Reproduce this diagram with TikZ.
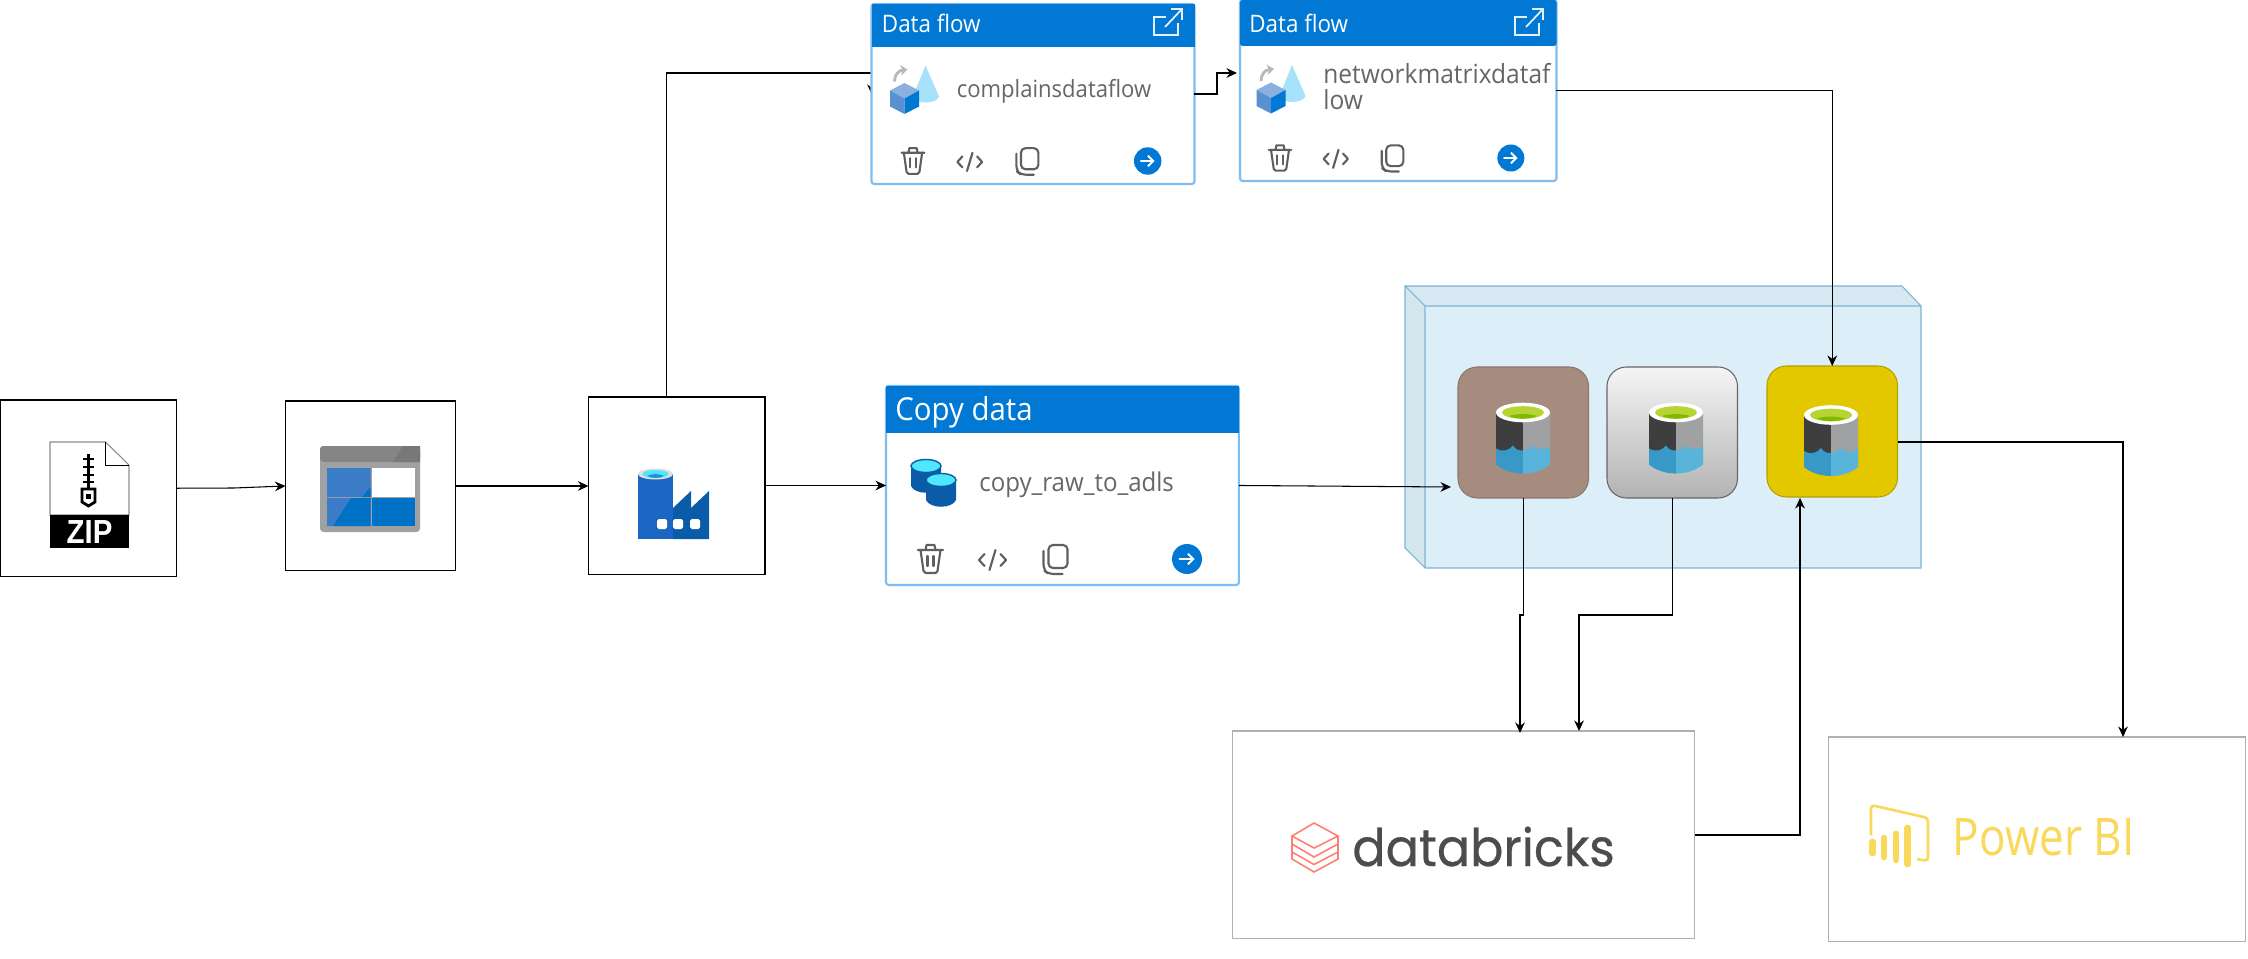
\documentclass[tikz,border=0pt]{standalone}
\usepackage{fontspec}
\setmainfont{Open Sans}[FakeStretch=0.93]
\newfontfamily\logofont{Poppins}[FakeBold=0.5,FakeStretch=0.95]
\newfontfamily\zipfont{Liberation Sans}[FakeStretch=0.88]
\newfontfamily\pbifont{Open Sans}[FakeStretch=0.85]
\usetikzlibrary{arrows.meta}

\definecolor{cardblue}{HTML}{0078D4}
\definecolor{cardedge}{HTML}{7FBDF0}
\definecolor{cardtext}{HTML}{666666}
\definecolor{toolgray}{HTML}{5F5F5F}
\definecolor{boxgray}{HTML}{B0B0B0}
\definecolor{pbiyellow}{HTML}{F9D85A}
\definecolor{brickred}{HTML}{FF7F70}
\definecolor{lakefront}{HTML}{DCEEF8}
\definecolor{lakeside}{HTML}{D4E6EE}
\definecolor{laketop}{HTML}{D7E8F2}
\definecolor{lakeedge}{HTML}{7DB5D2}
\definecolor{rawbrown}{HTML}{A68C7E}
\definecolor{goldfill}{HTML}{E3C800}
\definecolor{pailblack}{HTML}{3E3E3E}
\definecolor{pailgray}{HTML}{A0A1A2}
\definecolor{pailgreen}{HTML}{B8D432}
\definecolor{paildeep}{HTML}{7FBA00}
\definecolor{pailwater}{HTML}{3999C6}
\definecolor{pailsky}{HTML}{59B4D9}
\definecolor{adfleft}{HTML}{1A66C2}
\definecolor{adfright}{HTML}{0B5CA8}
\definecolor{adftop}{HTML}{50E6FF}
\definecolor{storecell}{HTML}{3B7CC9}
\definecolor{storedeep}{HTML}{0072C6}

\tikzset{
  x=0.02cm, y=-0.02cm,
  blackbox/.style={draw=black, line width=.6pt, fill=white, anchor=north west, inner sep=0pt, outer sep=0pt},
  logobox/.style={draw=boxgray, line width=.6pt, fill=white, anchor=north west, inner sep=0pt, outer sep=0pt},
  cardbox/.style={draw=cardedge, line width=1.2pt, fill=white, rounded corners=1.5pt, anchor=north west, inner sep=0pt, outer sep=0pt},
  lakebox/.style={line width=.6pt, rounded corners=11pt, anchor=north west, inner sep=0pt, outer sep=0pt, minimum width=2.61cm, minimum height=2.62cm},
  headtext/.style={anchor=base west, inner sep=0pt, text=white, font=\fontsize{13.7}{16}\selectfont},
  nametext/.style={anchor=base west, inner sep=0pt, text=cardtext, font=\fontsize{13.5}{16}\selectfont},
  conn/.style={draw=black, line width=.6pt, -{Stealth[length=6pt,width=5.5pt]}},
  bucketicon/.pic={
    \fill[pailblack] (-27,0) -- (-27,52) -- (0,61) -- (0,0) -- cycle;
    \fill[pailgray] (0,0) -- (0,61) -- (27,52) -- (27,0) -- cycle;
    \fill[pailwater] (-27,36) .. controls (-20,40) and (-14,38) .. (-10,33) .. controls (-7,38) and (-3,38) .. (0,38) -- (0,61) .. controls (-10,61) and (-20,58) .. (-27,52) -- cycle;
    \fill[pailsky] (0,38) .. controls (5,38) and (7,36) .. (9,33) .. controls (14,38) and (22,38) .. (27,34) -- (27,52) .. controls (20,58) and (10,61) .. (0,61) -- cycle;
    \fill[white] (0,0) ellipse[x radius=27, y radius=9.8];
    \fill[pailgreen] (0,0) ellipse[x radius=21, y radius=6.3];
    \fill[paildeep] (-14,3.5) .. controls (-7,1) and (7,1) .. (14,3.5) .. controls (7,7) and (-7,7) .. cycle;
  },
  flowicon/.pic={
    \fill[cyan!35] (21,-33) -- (8.5,-2) .. controls (10,6) and (32,6) .. (34.5,-2) -- cycle;
    \draw[black!28, line width=1.6pt, -{Stealth[length=4pt,width=6pt]}] (-10,-17) .. controls (-10,-24) and (-6,-28) .. (3,-29);
    \fill[storecell!60!white] (0,-15.5) -- (14.5,-8) -- (0,0) -- (-14.5,-8) -- cycle;
    \fill[storecell!85!white] (-14.5,-8) -- (0,0) -- (0,15.5) -- (-14.5,8) -- cycle;
    \fill[cardblue] (14.5,-8) -- (0,0) -- (0,15.5) -- (14.5,8) -- cycle;
  },
  toolicons/.pic={
    \begin{scope}[draw=toolgray, line width=1.2pt, line cap=round, line join=round]
      \draw (-12.5,-9) -- (12.5,-9) (-5,-9) -- (-4,-14) -- (4,-14) -- (5,-9);
      \draw (-10,-9) -- (-7,12) -- (-5,14) -- (5,14) -- (7,12) -- (10,-9);
      \draw (-3,-3) -- (-3,7) (3,-3) -- (3,7);
      \draw (54,-5) -- (48.5,1) -- (54,7) (59,11) -- (65,-9) (70,-5) -- (75.5,1) -- (70,7);
      \draw[rounded corners=2.5pt] (118,-14) rectangle (137,9);
      \draw[rounded corners=3pt] (113,-8) -- (113,11) -- (118,15) -- (132,15);
    \end{scope}
    \fill[cardblue] (256.5,0) circle[radius=15];
    \draw[white, line width=1.1pt, line cap=round, -{Straight Barb[length=3pt,width=6pt]}] (249,0) -- (264,0);
  },
  outicon/.pic={
    \draw[white!90!cardblue, line width=1pt] (-3,-18) -- (-15,-18) -- (-15,0) -- (9,0) -- (9,-12);
    \draw[white!90!cardblue, line width=1pt] (-4,-8) -- (13,-26) (2,-26) -- (13,-26) -- (13,-15);
  },
}

\begin{document}
\begin{tikzpicture}
  \useasboundingbox (0,0) rectangle (2248,959);
  \fill[white] (0,0) rectangle (2248,959);

  \coordinate (factorytop) at (666.7,397);
  \coordinate (flowin) at (872,95);
  \draw[conn] (factorytop) |- (flowin |- 0,73) -- (flowin);

  \fill[lakefront] (1425,306) rectangle (1921,568);
  \fill[lakeside] (1405,286) -- (1425,306) -- (1425,568) -- (1405,548) -- cycle;
  \fill[laketop] (1405,286) -- (1902,286) -- (1921,306) -- (1425,306) -- cycle;
  \draw[lakeedge, line width=.6pt] (1405,286) -- (1902,286) -- (1921,306) -- (1921,568) -- (1425,568) -- (1405,548) -- cycle
        (1405,286) -- (1425,306) -- (1921,306) (1425,306) -- (1425,568);

  \node[blackbox, minimum width=3.54cm, minimum height=3.53cm] (zipbox) at (0,400) {};
  \node[blackbox, minimum width=3.41cm, minimum height=3.40cm] (storebox) at (285.5,401) {};
  \node[blackbox, minimum width=3.53cm, minimum height=3.56cm] (factorybox) at (588.5,397) {};
  \node[cardbox, minimum width=6.46cm, minimum height=3.60cm] (flowcard) at (871.5,4) {};
  \node[cardbox, minimum width=6.33cm, minimum height=3.62cm] (matrixcard) at (1240,0) {};
  \node[cardbox, minimum width=7.06cm, minimum height=3.98cm] (copycard) at (886,386) {};
  \node[lakebox, draw=rawbrown!85!black, fill=rawbrown] (rawlake) at (1458,367) {};
  \node[lakebox, draw=black!60, top color=black!4, bottom color=black!30] (cleanlake) at (1607,367) {};
  \node[lakebox, draw=goldfill!80!black, fill=goldfill] (goldlake) at (1767,366) {};
  \node[logobox, minimum width=9.25cm, minimum height=4.16cm] (brickbox) at (1232.5,731) {};
  \node[logobox, minimum width=8.35cm, minimum height=4.10cm] (pbibox) at (1828.5,737) {};

  \coordinate (lakein) at (1451,487);
  \coordinate (matrixin) at (1237,73);
  \coordinate (rawin) at (1520,733);
  \coordinate (cleanin) at (1579,731);
  \coordinate (goldin) at (1800,498);
  \coordinate (goldout) at (1898,442);
  \coordinate (pbiin) at (2123,737);

  \draw[conn] (zipbox.east) -- (234,488) -- (storebox.west);
  \draw[conn] (storebox.east) -- (factorybox.west |- storebox.east);
  \draw[conn] (factorybox.east |- copycard.west) -- (copycard.west);
  \draw[conn] (copycard.east) -- (lakein);
  \draw[conn] (flowcard.east) -| (1217,73) -- (matrixin);
  \draw[conn] (matrixcard.east) -| (goldlake.north);
  \draw[conn] (rawlake.south) |- (rawin |- 0,615) -- (rawin);
  \draw[conn] (cleanlake.south) |- (cleanin |- 0,615) -- (cleanin);
  \draw[conn] (brickbox.east) -| (goldin);
  \draw[conn] (goldout) -| (pbiin);

  \fill[cardblue] (871.5,4) rectangle (1195,47);
  \fill[cardblue, rounded corners=1.5pt] (1240,0) rectangle (1556.5,46);
  \fill[cardblue] (886,386) rectangle (1239,433);
  \node[headtext] (flowhead) at (881.6,33) {Data flow};
  \node[headtext] (matrixhead) at (1249,33) {Data flow};
  \node[headtext, font=\fontsize{18}{20}\selectfont] (copyhead) at (895,420) {Copy data};
  \node[nametext] (flowname) at (956.5,97.7) {complainsdataflow};
  \node[nametext, font=\fontsize{15}{17}\selectfont] (matrixname) at (1323,84) {networkmatrixdataf};
  \node[nametext, font=\fontsize{15}{17}\selectfont] (matrixtail) at (1323,110) {low};
  \node[nametext, font=\fontsize{14.7}{17}\selectfont] (copyname) at (979,491) {copy\_raw\_to\_adls};
  \pic at (1169,35) {outicon};
  \pic at (1530,35) {outicon};
  \pic at (904.5,98.5) {flowicon};
  \pic at (1271,98) {flowicon};
  \pic[scale=.915] at (913,161) {toolicons};
  \pic[scale=.9] at (1280,158) {toolicons};
  \pic at (930.5,559) {toolicons};

  \foreach \dx/\dy in {0/0, 15/14} {
    \fill[adfright] (911+\dx,466+\dy) -- (911+\dx,486+\dy) .. controls (915+\dx,495+\dy) and (937+\dx,495+\dy) .. (941+\dx,486+\dy) -- (941+\dx,466+\dy) -- cycle;
    \fill[adftop] (926+\dx,466+\dy) ellipse[x radius=15, y radius=6.5];
    \draw[adfright, line width=.8pt] (926+\dx,466+\dy) ellipse[x radius=15, y radius=6.5];
  }

  \draw[black!45, fill=white, line width=.6pt] (50,442) -- (105.5,442) -- (129,465) -- (129,515) -- (50,515) -- cycle;
  \draw[black, line width=.5pt] (105.5,442) -- (105.5,465) -- (129,465);
  \fill[black] (50,515) rectangle (129,548);
  \node[inner sep=0pt, text=white, font=\zipfont\bfseries\fontsize{19}{19}\selectfont] (ziptext) at (89.5,532) {ZIP};
  \draw[black, line width=1.3pt] (88.5,454) -- (88.5,488);
  \foreach \zy in {459,467,475,482} \draw[black, line width=1.6pt] (83,\zy) -- (94,\zy);
  \draw[black, line width=1.6pt, fill=white] (82,489) -- (95,489) -- (95,502) -- (88.5,506) -- (82,502) -- cycle;
  \fill[black] (86,494) rectangle (91,499);

  \fill[pailgray, rounded corners=2pt] (320,446) rectangle (420,532);
  \fill[black!48, rounded corners=2pt] (320,446) rectangle (420,462);
  \fill[black!53] (393,462) -- (403,446) -- (420,446) -- (420,462) -- cycle;
  \fill[storecell] (327,468) rectangle (370.5,497) (327,498) rectangle (370.5,526);
  \fill[white] (372,468) rectangle (415,497);
  \fill[storedeep] (372,498) rectangle (415,526);
  \fill[storedeep] (333,526) -- (370.5,526) -- (370.5,498) -- (351,498) -- cycle;
  \fill[storedeep] (370.5,497) -- (370.5,487) -- (362,497) -- cycle;

  \fill[adfleft] (638,474) -- (638,539) -- (673,539) -- (673,474) -- cycle;
  \fill[adfright] (673,539) -- (673,508) -- (691,491) -- (691,508) -- (709,491) -- (709,539) -- cycle;
  \fill[black!12] (655.5,474) ellipse[x radius=17.5, y radius=5.5];
  \fill[adftop] (655.5,474) ellipse[x radius=13, y radius=4];
  \fill[adfleft!70!adftop] (647,476) .. controls (652,473.5) and (659,473.5) .. (664,476) .. controls (659,478.5) and (652,478.5) .. cycle;
  \foreach \wx in {657,673,690} \fill[white, rounded corners=1pt] (\wx,519) rectangle (\wx+10,529);

  \pic at (1523,412.5) {bucketicon};
  \pic at (1676,412.5) {bucketicon};
  \pic at (1831,415) {bucketicon};

  \draw[brickred, line width=.9pt] (1314,823) -- (1338,836) -- (1314,848) -- (1292,836) -- cycle;
  \draw[brickred, line width=.9pt] (1292,836) -- (1292,844) -- (1314,857) -- (1338,844) -- (1338,836)
        (1292,844) -- (1292,852) -- (1314,864.5) -- (1338,852) -- (1338,844)
        (1292,852) -- (1292,859) -- (1314,872) -- (1338,859) -- (1338,852);
  \node[anchor=base west, inner sep=0pt, text=black!70, font=\logofont\fontsize{29.5}{31}\selectfont] (bricktext) at (1352,866) {databricks};
  \draw[pbiyellow, line width=1.5pt, line join=round, rounded corners=2pt] (1871,835) -- (1871,805) -- (1928,818) -- (1928,861) -- (1917,859);
  \foreach \bx/\bt/\bb in {1872.7/842/853, 1884/838/857, 1896/834/860, 1907.7/828/864}
    \draw[pbiyellow, line width=3.8pt, line cap=round] (\bx,\bt) -- (\bx,\bb);
  \node[anchor=base west, inner sep=0pt, text=pbiyellow, font=\pbifont\fontsize{29.5}{31}\selectfont] (pbitext) at (1952.5,855) {Power BI};
\end{tikzpicture}
\end{document}
